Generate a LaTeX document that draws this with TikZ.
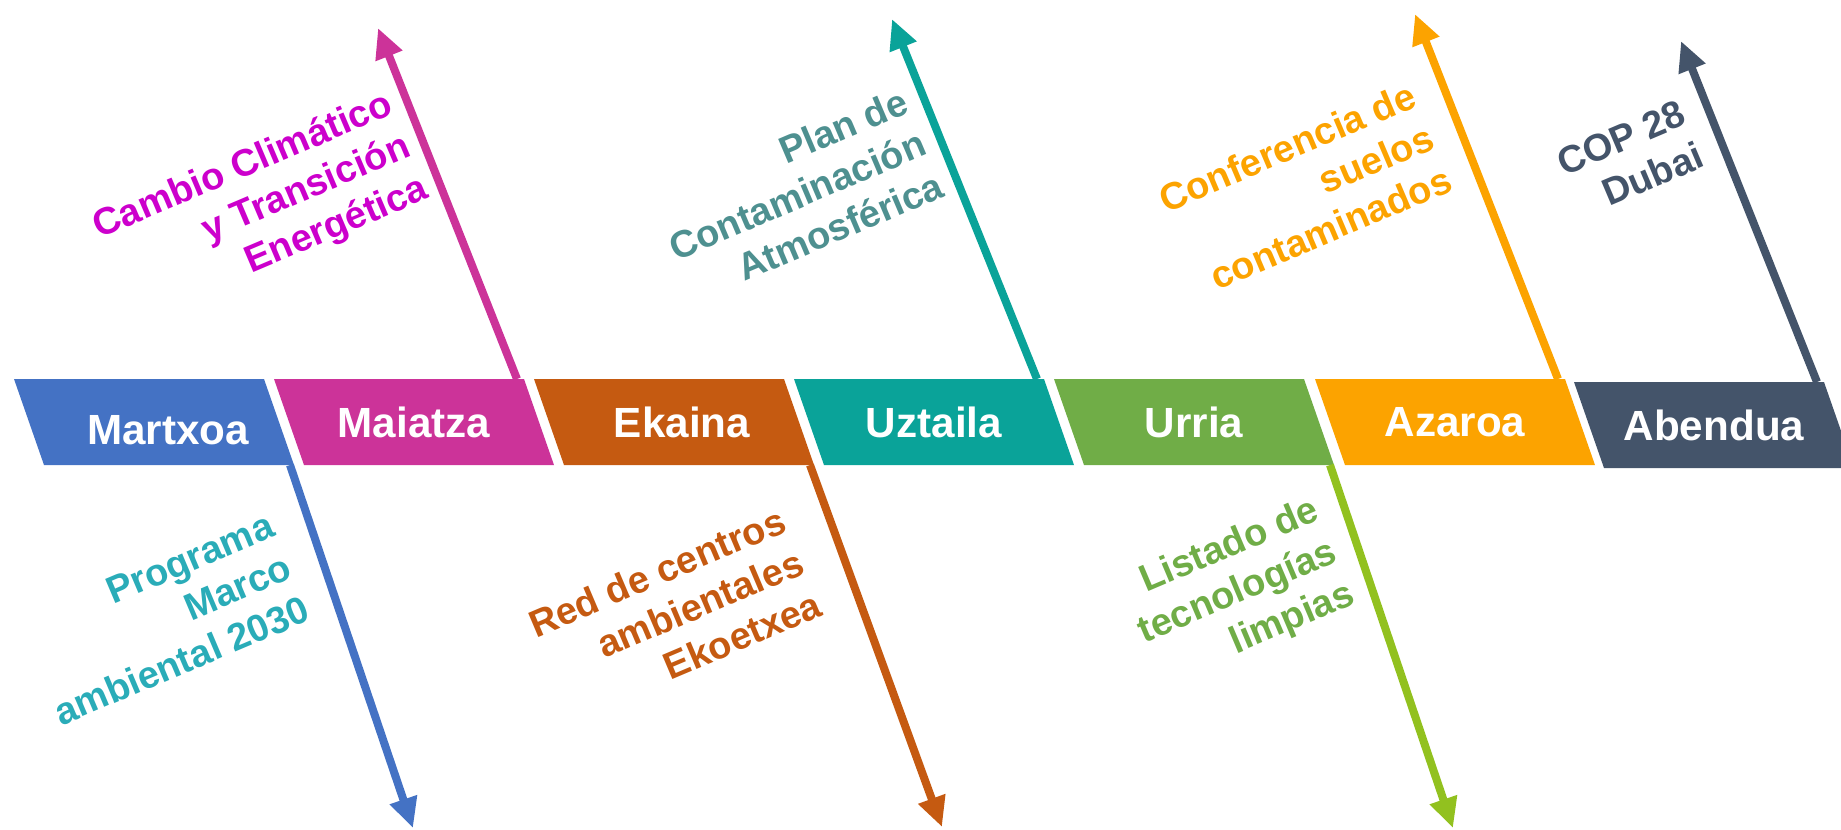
\documentclass[tikz,border=0pt]{standalone}
\usepackage{fontspec}
\setmainfont{Liberation Sans}
\usetikzlibrary{arrows.meta}
\definecolor{cmar}{HTML}{4472C4}
\definecolor{cmai}{HTML}{CC3399}
\definecolor{ceka}{HTML}{C55A11}
\definecolor{cuzt}{HTML}{0AA399}
\definecolor{curr}{HTML}{70AD47}
\definecolor{caza}{HTML}{FCA300}
\definecolor{cabe}{HTML}{44546A}
\definecolor{currline}{HTML}{92C11F}
\definecolor{ccambio}{HTML}{CC00CC}
\definecolor{cplan}{HTML}{4E9090}
\definecolor{cprog}{HTML}{2AACB8}
\tikzstyle{month}=[text=white, font=\fontsize{12}{14}\selectfont\bfseries, inner sep=0pt]
\tikzstyle{annot}=[align=right, font=\fontsize{10.8}{13}\selectfont\bfseries, rotate=23, inner sep=0pt]
\tikzstyle{event}=[-{Triangle[length=0.3cm,width=0.27cm]}, line width=0.08cm]
\newcommand{\drawband}[6][]
{
  \fill[#5] (#3,#4) -- ++(250,0) -- ++(30,86) -- ++(-250,0) -- cycle;
  \coordinate (#2up) at (#3+243,#4);
  \coordinate (#2dn) at (#3+276,#4+86);
  \node[month,#1] (#2) at (#3+140,#4+43) {#6};
}

\begin{document}
\begin{tikzpicture}[x=0.01cm, y=-0.01cm]
	\useasboundingbox (0,0) rectangle (1841,829);
	\clip (0,0) rectangle (1841,829);

	\drawband[xshift=0.14cm, yshift=-0.08cm]{martxoa}{14}{379}{cmar}{Martxoa}
	\drawband{maiatza}{274}{379}{cmai}{Maiatza}
	\drawband[xshift=0.08cm]{ekaina}{534}{379}{ceka}{Ekaina}
	\drawband{uztaila}{794}{379}{cuzt}{Uztaila}
	\drawband{urria}{1054}{379}{curr}{Urria}
	\drawband{azaroa}{1315}{379}{caza}{Azaroa}
	\drawband{abendua}{1574}{382}{cabe}{Abendua}

	% arrow ends
	\coordinate (martxoatip) at (413,828);
	\coordinate (maiatzatip) at (378,28);
	\coordinate (ekainatip) at (942,827);
	\coordinate (uztailatip) at (892,19);
	\coordinate (urriatip) at (1453,828);
	\coordinate (azaroatip) at (1415,14);
	\coordinate (abenduatip) at (1681,41);

	\draw[event, cmar] (martxoadn) -- (martxoatip);
	\draw[event, cmai] (maiatzaup) -- (maiatzatip);
	\draw[event, ceka] (ekainadn) -- (ekainatip);
	\draw[event, cuzt] (uztailaup) -- (uztailatip);
	\draw[event, currline] (urriadn) -- (urriatip);
	\draw[event, caza] (azaroaup) -- (azaroatip);
	\draw[event, cabe] (abenduaup) -- (abenduatip);

	\node[annot, text=ccambio] (cambio) at (261,209) {Cambio Climático\\y Transición\\Energética};
	\node[annot, text=cplan] (plan) at (797,195) {Plan de\\Contaminación\\Atmosférica};
	\node[annot, text=caza] (conferencia) at (1305,189) {Conferencia de\\suelos\\contaminados};
	\node[annot, text=cabe] (cop) at (1630,159) {COP 28\\Dubai};
	\node[annot, text=cprog] (programa) at (164,619) {Programa\\Marco\\ambiental 2030};
	\node[annot, text=ceka] (red) at (675,614) {Red de centros\\ambientales\\Ekoetxea};
	\node[annot, text=curr] (listado) at (1238,593) {Listado de\\tecnologías\\limpias};
\end{tikzpicture}
\end{document}
